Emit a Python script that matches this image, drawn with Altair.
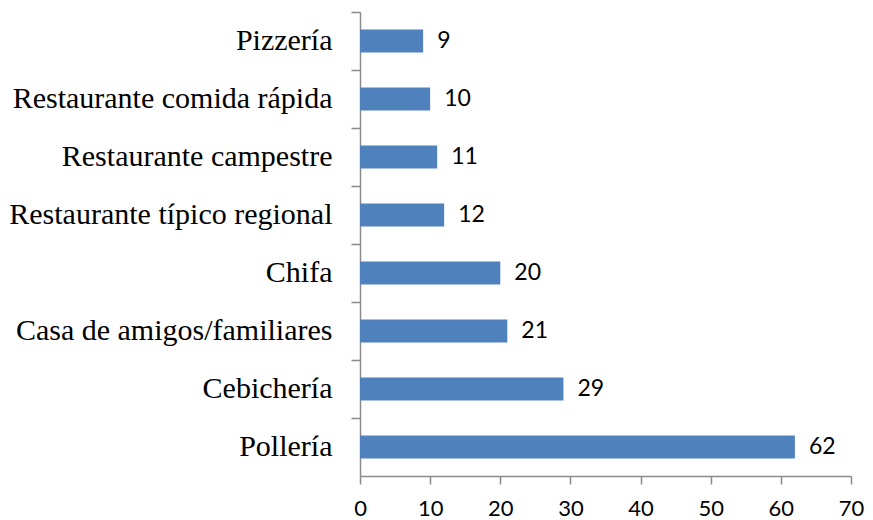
import altair as alt
import pandas as pd

categories = [
    "Pizzería",
    "Restaurante comida rápida",
    "Restaurante campestre",
    "Restaurante típico regional",
    "Chifa",
    "Casa de amigos/familiares",
    "Cebichería",
    "Pollería",
]
values = [9, 10, 11, 12, 20, 21, 29, 62]

df = pd.DataFrame({"lugar": categories, "valor": values})

AX = "#8a8a8a"

y_enc = alt.Y(
    "lugar:N",
    sort=categories,
    title=None,
    scale=alt.Scale(paddingInner=0, paddingOuter=0),
    axis=alt.Axis(
        bandPosition=0,
        labelFont="Liberation Serif",
        labelFontSize=30,
        labelColor="#000000",
        labelPadding=19,
        tickSize=9,
        tickColor=AX,
        tickWidth=1.5,
        domainColor=AX,
        domainWidth=1.5,
        grid=False,
        labelLimit=500,
    ),
)

x_enc = alt.X(
    "valor:Q",
    title=None,
    scale=alt.Scale(domain=[0, 70], nice=False),
    axis=alt.Axis(
        values=[0, 10, 20, 30, 40, 50, 60, 70],
        labelFont="Lato",
        labelFontSize=22,
        labelColor="#000000",
        labelPadding=14,
        tickSize=8,
        tickColor=AX,
        tickWidth=1.5,
        domainColor=AX,
        domainWidth=1.5,
        grid=False,
        labelFlush=False,
    ),
)

bars = alt.Chart(df).mark_bar(color="#4F81BD", height={"band": 0.4}).encode(
    x=x_enc, y=y_enc
)

labels = alt.Chart(df).mark_text(
    align="left", baseline="middle", dx=14, font="Lato", fontSize=23, color="#000000"
).encode(x="valor:Q", y=alt.Y("lugar:N", sort=categories), text="valor:Q")

chart = (
    alt.layer(bars, labels)
    .properties(
        width=491,
        height=464,
        autosize=alt.AutoSizeParams(type="none"),
        padding={"left": 352, "top": 4, "right": 14, "bottom": 44},
        background="#ffffff",
    )
    .configure_view(stroke=None)
)

chart.save("out.html", embed_options={"renderer": "svg", "actions": False})
